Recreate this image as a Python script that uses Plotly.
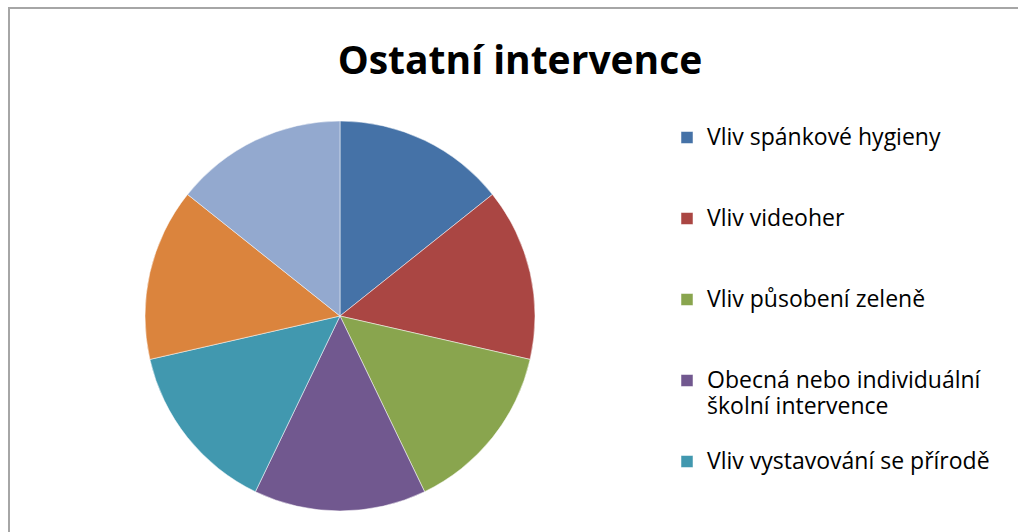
import plotly.graph_objects as go

# slices (all equal shares); last two labels fall outside the visible frame
labels = [
    "Vliv spánkové hygieny",
    "Vliv videoher",
    "Vliv působení zeleně",
    "Obecná nebo individuální<br>školní intervence",
    "Vliv vystavování se přírodě",
    "Vliv fyzické aktivity",
    "Vliv sociálních sítí",
]
values = [1, 1, 1, 1, 1, 1, 1]
colors = ["#4572A7", "#AA4643", "#89A54E", "#71588F", "#4198AF", "#DB843D", "#93A9CF"]

W, H = 1018, 700  # taller than the window, bottom gets cut like the reference


def px_x(x):
    return x / W


def px_y(y):
    return 1 - y / H


# bigger visible text, but pad each label to 3 lines of the base size
# so the entries get the Excel-like slot spacing
legend_labels = []
for lab in labels:
    parts = lab.split("<br>")
    parts = ['<span style="font-size:23px">' + p + "</span>" for p in parts]
    parts += [" "] * (3 - len(parts))
    legend_labels.append("<br>".join(parts))

fig = go.Figure(
    go.Pie(
        labels=legend_labels,
        values=values,
        sort=False,
        direction="clockwise",
        rotation=0,
        marker={"colors": colors, "line": {"color": "white", "width": 0.5}},
        textinfo="none",
        hoverinfo="skip",
        domain={"x": [px_x(145), px_x(535)], "y": [px_y(511), px_y(121)]},
    )
)

fig.add_shape(
    type="rect",
    xref="paper", yref="paper",
    x0=px_x(9), x1=px_x(1030), y0=px_y(900), y1=px_y(8),
    line={"color": "#A6A6A6", "width": 2},
    fillcolor="rgba(0,0,0,0)",
)

fig.update_layout(
    width=W,
    height=H,
    margin={"l": 0, "r": 0, "t": 0, "b": 0},
    paper_bgcolor="white",
    font={"family": "Open Sans, sans-serif", "color": "black"},
    title={
        "text": "<b>Ostatní intervence</b>",
        "x": px_x(520),
        "xanchor": "center",
        "y": px_y(60),
        "yanchor": "middle",
        "font": {"size": 39, "family": "Open Sans, sans-serif", "color": "black"},
    },
    legend={
        "x": px_x(667),
        "xanchor": "left",
        "y": px_y(118),
        "yanchor": "top",
        "valign": "top",
        "font": {"size": 20},
        "bgcolor": "rgba(0,0,0,0)",
    },
    showlegend=True,
)

fig.write_html(
    "out.html",
    config={"displayModeBar": False},
    post_script="document.body.style.margin='0';document.body.style.overflow='hidden';",
)
